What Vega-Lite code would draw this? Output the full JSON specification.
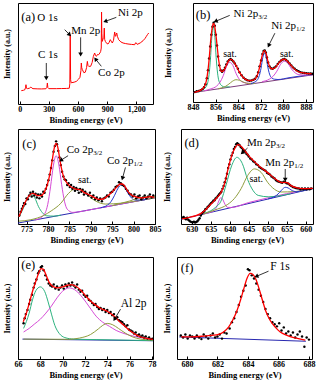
{
"$schema":"https://vega.github.io/schema/vega-lite/v6.json",
"padding":{"left":2,"top":2,"right":2,"bottom":2},
"spacing":4,
"datasets":{
"a":[{"x":17,"y":13.2},{"x":40,"y":13.6},{"x":51,"y":13.9},{"x":60,"y":16},{"x":65,"y":19.1},{"x":70,"y":15.6},{"x":79,"y":15.2},{"x":100,"y":15.6},{"x":115,"y":16.8},{"x":125,"y":15.8},{"x":137,"y":15.2},{"x":180,"y":15},{"x":223,"y":14.9},{"x":270,"y":15.1},{"x":280,"y":16.5},{"x":285,"y":20.8},{"x":290,"y":16.2},{"x":300,"y":15.2},{"x":380,"y":15.2},{"x":429,"y":15.3},{"x":480,"y":15.4},{"x":510,"y":15.6},{"x":516,"y":20},{"x":520,"y":68.6},{"x":524,"y":24},{"x":530,"y":21},{"x":560,"y":21.6},{"x":583,"y":22.4},{"x":605,"y":24.5},{"x":620,"y":26.4},{"x":630,"y":33},{"x":634,"y":40.6},{"x":638,"y":36},{"x":645,"y":34},{"x":660,"y":31},{"x":675,"y":31.5},{"x":688,"y":36},{"x":696,"y":42.2},{"x":703,"y":38},{"x":710,"y":37.3},{"x":730,"y":37.3},{"x":745,"y":41},{"x":758,"y":47.2},{"x":771,"y":50.5},{"x":780,"y":48},{"x":789,"y":47.2},{"x":800,"y":49},{"x":812,"y":48.8},{"x":825,"y":50.5},{"x":833,"y":52.1},{"x":839,"y":55.4},{"x":842,"y":91},{"x":845,"y":70},{"x":850,"y":62},{"x":860,"y":65.3},{"x":866,"y":66},{"x":870,"y":75.2},{"x":874,"y":64},{"x":881,"y":62},{"x":895,"y":60},{"x":908,"y":59.4},{"x":920,"y":61},{"x":932,"y":63.7},{"x":945,"y":61.5},{"x":953,"y":60.4},{"x":965,"y":63},{"x":977,"y":71.3},{"x":983,"y":68},{"x":987,"y":67},{"x":993,"y":69},{"x":998,"y":70.3},{"x":1005,"y":67},{"x":1018,"y":63.7},{"x":1040,"y":61.5},{"x":1063,"y":60.4},{"x":1090,"y":59.8},{"x":1114,"y":59.4},{"x":1150,"y":59},{"x":1183,"y":58.7},{"x":1192,"y":60.6},{"x":1200,"y":60.4},{"x":1210,"y":59},{"x":1217,"y":59.4},{"x":1240,"y":60.5},{"x":1269,"y":62.7},{"x":1290,"y":65},{"x":1303,"y":67},{"x":1315,"y":68.8},{"x":1327,"y":70.3}],
"ta":[{"k":"p","t":"(a)","x":17,"y":86},{"k":"l","t":"O 1s","x":182,"y":84.8},{"k":"l","t":"Mn 2p","x":531,"y":72.6},{"k":"l","t":"Ni 2p","x":1011,"y":90},{"k":"l","t":"C 1s","x":189,"y":48.5},{"k":"l","t":"Co 2p","x":806,"y":30.7}],
"ra":[{"k":"o","x":463,"y":73.6,"x2":514,"y2":68.6},{"k":"mn","x":627,"y":66,"x2":627,"y2":49},{"k":"c","x":274,"y":40.6,"x2":274,"y2":25.5},{"k":"ni","x":994,"y":85.8,"x2":880,"y2":81.8},{"k":"co","x":840,"y":37.3,"x2":780,"y2":44.5}],
"b":[{"s":"bm","x":848,"y":9.5},{"s":"bm","x":890.5,"y":27.5},
{"s":"g1","x":849.5,"y":10.1},{"s":"g1","x":851.2,"y":11.9},{"s":"g1","x":852.2,"y":13.9},{"s":"g1","x":853.2,"y":19.4},{"s":"g1","x":853.7,"y":27.9},{"s":"g1","x":854.2,"y":44.2},{"s":"g1","x":854.7,"y":66.8},{"s":"g1","x":855.2,"y":76.6},{"s":"g1","x":855.7,"y":67.2},{"s":"g1","x":856.2,"y":45},{"s":"g1","x":856.7,"y":29.2},{"s":"g1","x":857.2,"y":21.1},{"s":"g1","x":858.2,"y":16.4},{"s":"g1","x":859.2,"y":15.2},{"s":"g1","x":861,"y":15.3},
{"s":"m1","x":852,"y":11.3},{"s":"m1","x":854.1,"y":13.1},{"s":"m1","x":856.4,"y":16.1},{"s":"m1","x":857.55,"y":19.9},{"s":"m1","x":858.7,"y":26.5},{"s":"m1","x":859.85,"y":35.8},{"s":"m1","x":861,"y":40},{"s":"m1","x":862.15,"y":36.8},{"s":"m1","x":863.3,"y":28.5},{"s":"m1","x":864.45,"y":22.8},{"s":"m1","x":865.6,"y":20},{"s":"m1","x":867.9,"y":18.9},{"s":"m1","x":870,"y":18.8},
{"s":"o1","x":857,"y":13.4},{"s":"o1","x":858.2,"y":14.3},{"s":"o1","x":859.45,"y":15.7},{"s":"o1","x":860.7,"y":18.1},{"s":"o1","x":861.95,"y":20.9},{"s":"o1","x":863.2,"y":22.5},{"s":"o1","x":864.45,"y":22},{"s":"o1","x":865.7,"y":20.3},{"s":"o1","x":866.95,"y":19},{"s":"o1","x":868.2,"y":18.6},{"s":"o1","x":870,"y":18.8},
{"s":"b1","x":868.5,"y":18.6},{"s":"b1","x":869.7,"y":19.9},{"s":"b1","x":870.9,"y":22.7},{"s":"b1","x":871.5,"y":26.75},{"s":"b1","x":872.1,"y":34.2},{"s":"b1","x":872.7,"y":44.7},{"s":"b1","x":873.3,"y":49.2},{"s":"b1","x":873.9,"y":45.2},{"s":"b1","x":874.5,"y":35.3},{"s":"b1","x":875.1,"y":28.25},{"s":"b1","x":875.7,"y":24.8},{"s":"b1","x":876.9,"y":23},{"s":"b1","x":878.1,"y":22.7},{"s":"b1","x":882,"y":24.5},{"s":"b1","x":886,"y":26.2},{"s":"b1","x":890.5,"y":27.8},
{"s":"m2","x":872.5,"y":20.6},{"s":"m2","x":875.1,"y":23.2},{"s":"m2","x":876.4,"y":26.1},{"s":"m2","x":877.7,"y":31.1},{"s":"m2","x":879,"y":38},{"s":"m2","x":880.3,"y":41.2},{"s":"m2","x":881.6,"y":39.1},{"s":"m2","x":882.9,"y":33.3},{"s":"m2","x":884.2,"y":29.4},{"s":"m2","x":885.5,"y":27.6},{"s":"m2","x":888.1,"y":27.2},{"s":"m2","x":890.5,"y":27.5},
{"s":"env","x":848.5,"y":9.8},{"s":"env","x":850,"y":11},{"s":"env","x":851,"y":12.5},{"s":"env","x":852,"y":15.5},{"s":"env","x":852.7,"y":21},{"s":"env","x":853.3,"y":32},{"s":"env","x":853.8,"y":46},{"s":"env","x":854.3,"y":63},{"s":"env","x":854.8,"y":75},{"s":"env","x":855.2,"y":79.5},{"s":"env","x":855.6,"y":77.5},{"s":"env","x":856.1,"y":68},{"s":"env","x":856.6,"y":55},{"s":"env","x":857.1,"y":42},{"s":"env","x":857.6,"y":34},{"s":"env","x":858.2,"y":30.8},{"s":"env","x":858.8,"y":31.5},{"s":"env","x":859.4,"y":34.5},{"s":"env","x":860.1,"y":39},{"s":"env","x":860.8,"y":42.3},{"s":"env","x":861.4,"y":43},{"s":"env","x":862.1,"y":41.8},{"s":"env","x":862.8,"y":39},{"s":"env","x":863.5,"y":35.5},{"s":"env","x":864.3,"y":31},{"s":"env","x":865.2,"y":27},{"s":"env","x":866.2,"y":23.8},{"s":"env","x":867.2,"y":22.2},{"s":"env","x":868.2,"y":21.6},{"s":"env","x":869.2,"y":22},{"s":"env","x":870,"y":23.4},{"s":"env","x":870.7,"y":26.5},{"s":"env","x":871.4,"y":33},{"s":"env","x":872.1,"y":42},{"s":"env","x":872.7,"y":49},{"s":"env","x":873.3,"y":51.8},{"s":"env","x":873.9,"y":49},{"s":"env","x":874.5,"y":41.5},{"s":"env","x":875.1,"y":36},{"s":"env","x":875.8,"y":33.6},{"s":"env","x":876.6,"y":33.8},{"s":"env","x":877.5,"y":36},{"s":"env","x":878.5,"y":39.8},{"s":"env","x":879.5,"y":42.5},{"s":"env","x":880.3,"y":43.2},{"s":"env","x":881.2,"y":42},{"s":"env","x":882.3,"y":38.5},{"s":"env","x":883.5,"y":34.5},{"s":"env","x":885,"y":31},{"s":"env","x":886.5,"y":29.6},{"s":"env","x":888,"y":29},{"s":"env","x":890,"y":28.6},
{"s":"pt","x":848.6,"y":10},{"s":"pt","x":849.3,"y":10.8},{"s":"pt","x":850,"y":11.2},{"s":"pt","x":850.7,"y":12},{"s":"pt","x":851.3,"y":13},{"s":"pt","x":851.9,"y":14.8},{"s":"pt","x":852.4,"y":18},{"s":"pt","x":852.9,"y":24},{"s":"pt","x":853.3,"y":32},{"s":"pt","x":853.7,"y":44},{"s":"pt","x":854.1,"y":56},{"s":"pt","x":854.5,"y":68},{"s":"pt","x":854.9,"y":76},{"s":"pt","x":855.3,"y":80},{"s":"pt","x":855.7,"y":77},{"s":"pt","x":856.1,"y":68},{"s":"pt","x":856.5,"y":57},{"s":"pt","x":856.9,"y":46},{"s":"pt","x":857.3,"y":37},{"s":"pt","x":857.8,"y":32},{"s":"pt","x":858.3,"y":30.5},{"s":"pt","x":858.8,"y":32},{"s":"pt","x":859.3,"y":34.5},{"s":"pt","x":859.8,"y":38},{"s":"pt","x":860.3,"y":41},{"s":"pt","x":860.8,"y":42.5},{"s":"pt","x":861.3,"y":43.5},{"s":"pt","x":861.8,"y":42.5},{"s":"pt","x":862.3,"y":41},{"s":"pt","x":862.8,"y":39},{"s":"pt","x":863.3,"y":36.5},{"s":"pt","x":863.9,"y":33.5},{"s":"pt","x":864.5,"y":30},{"s":"pt","x":865.2,"y":27},{"s":"pt","x":865.9,"y":24.5},{"s":"pt","x":866.6,"y":23},{"s":"pt","x":867.3,"y":22},{"s":"pt","x":868,"y":21.5},{"s":"pt","x":868.7,"y":21.8},{"s":"pt","x":869.4,"y":22.5},{"s":"pt","x":870,"y":23.5},{"s":"pt","x":870.6,"y":26},{"s":"pt","x":871.1,"y":30},{"s":"pt","x":871.6,"y":36},{"s":"pt","x":872.1,"y":42},{"s":"pt","x":872.6,"y":48.5},{"s":"pt","x":873,"y":51.5},{"s":"pt","x":873.4,"y":52},{"s":"pt","x":873.8,"y":50},{"s":"pt","x":874.2,"y":45},{"s":"pt","x":874.6,"y":40},{"s":"pt","x":875.1,"y":36},{"s":"pt","x":875.6,"y":34},{"s":"pt","x":876.2,"y":33.5},{"s":"pt","x":876.8,"y":34.5},{"s":"pt","x":877.4,"y":36},{"s":"pt","x":878,"y":38.5},{"s":"pt","x":878.6,"y":40.5},{"s":"pt","x":879.2,"y":42},{"s":"pt","x":879.8,"y":43},{"s":"pt","x":880.4,"y":43.5},{"s":"pt","x":881,"y":42.5},{"s":"pt","x":881.6,"y":41},{"s":"pt","x":882.2,"y":39},{"s":"pt","x":882.8,"y":37},{"s":"pt","x":883.4,"y":35},{"s":"pt","x":884,"y":33.5},{"s":"pt","x":884.7,"y":32},{"s":"pt","x":885.4,"y":31},{"s":"pt","x":886.1,"y":30},{"s":"pt","x":886.8,"y":29.5},{"s":"pt","x":887.5,"y":29.2},{"s":"pt","x":888.2,"y":29},{"s":"pt","x":888.9,"y":28.8},{"s":"pt","x":889.6,"y":28.8},{"s":"pt","x":890.2,"y":28.6}],
"tb":[{"k":"p","t":"(b)","x":849,"y":88},{"k":"s","t":"sat.","x":858.7,"y":48.5},{"k":"s","t":"sat.","x":878.8,"y":48},{"k":"u","t":"Ni 2p","sub":"3/2","x":871.1,"y":89},{"k":"u","t":"Ni 2p","sub":"1/2","x":884.5,"y":76.3}],
"rb":[{"k":"a1","x":861,"y":87.5,"x2":856,"y2":81.5},{"k":"a2","x":877,"y":69.5,"x2":874.8,"y2":57}],
"c":[{"s":"bl","x":773,"y":1},{"s":"bl","x":805,"y":27.6},
{"s":"g1","x":773.2,"y":7.4},{"s":"g1","x":774.1,"y":15.1},{"s":"g1","x":775.1,"y":26.2},{"s":"g1","x":776,"y":31.5},{"s":"g1","x":776.9,"y":27.7},{"s":"g1","x":777.8,"y":18.2},{"s":"g1","x":778.7,"y":11.9},{"s":"g1","x":779.6,"y":8.7},{"s":"g1","x":781.4,"y":8.3},{"s":"g1","x":783,"y":9.3},
{"s":"m1","x":777,"y":4.3},{"s":"m1","x":778,"y":5.8},{"s":"m1","x":779.3,"y":11.3},{"s":"m1","x":779.95,"y":20.7},{"s":"m1","x":780.6,"y":39.1},{"s":"m1","x":781.25,"y":61.1},{"s":"m1","x":781.9,"y":71.9},{"s":"m1","x":782.55,"y":62.2},{"s":"m1","x":783.2,"y":41.3},{"s":"m1","x":783.85,"y":24},{"s":"m1","x":784.5,"y":15.6},{"s":"m1","x":785.8,"y":12.2},{"s":"m1","x":787.5,"y":13},{"s":"m1","x":790,"y":15.1},{"s":"m1","x":797,"y":21},{"s":"m1","x":805,"y":27.6},
{"s":"o1","x":773.2,"y":3},{"s":"o1","x":776,"y":4.5},{"s":"o1","x":779,"y":9},{"s":"o1","x":780.75,"y":13.75},{"s":"o1","x":783,"y":21.8},{"s":"o1","x":784.75,"y":32},{"s":"o1","x":786.5,"y":37.2},{"s":"o1","x":788.25,"y":35},{"s":"o1","x":790,"y":27.6},{"s":"o1","x":791.75,"y":22.8},{"s":"o1","x":793.5,"y":21},{"s":"o1","x":797,"y":21.9},{"s":"o1","x":800,"y":23.7},{"s":"o1","x":805,"y":27.6},
{"s":"b1","x":792.3,"y":17.2},{"s":"b1","x":793.9,"y":19.9},{"s":"b1","x":794.7,"y":23.4},{"s":"b1","x":795.5,"y":29.7},{"s":"b1","x":796.3,"y":37.1},{"s":"b1","x":797.1,"y":41},{"s":"b1","x":797.9,"y":38.5},{"s":"b1","x":798.7,"y":32.3},{"s":"b1","x":799.5,"y":27.4},{"s":"b1","x":800.3,"y":25.3},{"s":"b1","x":801.9,"y":25.2},{"s":"b1","x":803,"y":26},
{"s":"o2","x":795,"y":19.3},{"s":"o2","x":799,"y":24.1},{"s":"o2","x":802,"y":28.1},{"s":"o2","x":805,"y":29.1},
{"s":"env","x":773.2,"y":7.7},{"s":"env","x":774,"y":15.8},{"s":"env","x":774.8,"y":23.9},{"s":"env","x":775.6,"y":29.8},{"s":"env","x":776.4,"y":32.3},{"s":"env","x":776.9,"y":31.6},{"s":"env","x":777.6,"y":29.8},{"s":"env","x":778.4,"y":29.8},{"s":"env","x":779.1,"y":33.3},{"s":"env","x":779.9,"y":42.1},{"s":"env","x":780.6,"y":56.1},{"s":"env","x":781.1,"y":70.2},{"s":"env","x":781.5,"y":80.7},{"s":"env","x":781.9,"y":84.9},{"s":"env","x":782.3,"y":80.7},{"s":"env","x":782.7,"y":70.2},{"s":"env","x":783.1,"y":59.6},{"s":"env","x":783.7,"y":49.1},{"s":"env","x":784.5,"y":42.8},{"s":"env","x":785.5,"y":38.6},{"s":"env","x":786.6,"y":36.8},{"s":"env","x":787.7,"y":35.8},{"s":"env","x":788.4,"y":33.3},{"s":"env","x":789.2,"y":31.6},{"s":"env","x":790,"y":29.8},{"s":"env","x":791,"y":27.4},{"s":"env","x":791.9,"y":26},{"s":"env","x":792.9,"y":26.3},{"s":"env","x":793.7,"y":28.8},{"s":"env","x":794.5,"y":31.6},{"s":"env","x":795.3,"y":35.1},{"s":"env","x":796.1,"y":39.3},{"s":"env","x":796.9,"y":42.1},{"s":"env","x":797.4,"y":42.1},{"s":"env","x":798.1,"y":38.6},{"s":"env","x":798.7,"y":34},{"s":"env","x":799.5,"y":30.5},{"s":"env","x":800.4,"y":28.8},{"s":"env","x":801.6,"y":27.4},{"s":"env","x":802.8,"y":28.1},{"s":"env","x":804,"y":28.8},{"s":"env","x":804.8,"y":28.1},
{"s":"pt","x":773.3,"y":9},{"s":"pt","x":773.6,"y":13},{"s":"pt","x":773.9,"y":16},{"s":"pt","x":774.2,"y":19},{"s":"pt","x":774.4,"y":22},{"s":"pt","x":774.7,"y":21},{"s":"pt","x":775,"y":27},{"s":"pt","x":775.3,"y":26},{"s":"pt","x":775.6,"y":30},{"s":"pt","x":775.9,"y":33},{"s":"pt","x":776.2,"y":29},{"s":"pt","x":776.5,"y":34},{"s":"pt","x":776.8,"y":30},{"s":"pt","x":777.1,"y":32},{"s":"pt","x":777.4,"y":28},{"s":"pt","x":777.7,"y":31},{"s":"pt","x":778,"y":27},{"s":"pt","x":778.3,"y":31},{"s":"pt","x":778.6,"y":29},{"s":"pt","x":778.9,"y":34},{"s":"pt","x":779.2,"y":33},{"s":"pt","x":779.5,"y":37},{"s":"pt","x":779.8,"y":41},{"s":"pt","x":780.1,"y":46},{"s":"pt","x":780.4,"y":52},{"s":"pt","x":780.7,"y":59},{"s":"pt","x":781,"y":67},{"s":"pt","x":781.3,"y":76},{"s":"pt","x":781.6,"y":82},{"s":"pt","x":781.9,"y":87},{"s":"pt","x":782.1,"y":84},{"s":"pt","x":782.4,"y":77},{"s":"pt","x":782.7,"y":70},{"s":"pt","x":783,"y":62},{"s":"pt","x":783.3,"y":55},{"s":"pt","x":783.6,"y":50},{"s":"pt","x":783.9,"y":47},{"s":"pt","x":784.2,"y":46},{"s":"pt","x":784.5,"y":41},{"s":"pt","x":784.8,"y":43},{"s":"pt","x":785.1,"y":39},{"s":"pt","x":785.4,"y":41},{"s":"pt","x":785.7,"y":37},{"s":"pt","x":786,"y":39},{"s":"pt","x":786.3,"y":35},{"s":"pt","x":786.6,"y":38},{"s":"pt","x":786.9,"y":36},{"s":"pt","x":787.2,"y":33},{"s":"pt","x":787.5,"y":37},{"s":"pt","x":787.8,"y":34},{"s":"pt","x":788.1,"y":36},{"s":"pt","x":788.4,"y":31},{"s":"pt","x":788.7,"y":34},{"s":"pt","x":789,"y":32},{"s":"pt","x":789.4,"y":30},{"s":"pt","x":789.8,"y":33},{"s":"pt","x":790.2,"y":28},{"s":"pt","x":790.6,"y":30},{"s":"pt","x":791,"y":26},{"s":"pt","x":791.4,"y":28},{"s":"pt","x":791.8,"y":25},{"s":"pt","x":792.2,"y":27},{"s":"pt","x":792.6,"y":24},{"s":"pt","x":793,"y":27},{"s":"pt","x":793.4,"y":28},{"s":"pt","x":793.8,"y":30},{"s":"pt","x":794.2,"y":29},{"s":"pt","x":794.6,"y":33},{"s":"pt","x":795,"y":34},{"s":"pt","x":795.4,"y":36},{"s":"pt","x":795.8,"y":39},{"s":"pt","x":796.2,"y":40},{"s":"pt","x":796.6,"y":44},{"s":"pt","x":797,"y":43},{"s":"pt","x":797.4,"y":41},{"s":"pt","x":797.8,"y":40},{"s":"pt","x":798.2,"y":37},{"s":"pt","x":798.6,"y":35},{"s":"pt","x":799,"y":32},{"s":"pt","x":799.4,"y":31},{"s":"pt","x":799.8,"y":29},{"s":"pt","x":800.2,"y":31},{"s":"pt","x":800.6,"y":27},{"s":"pt","x":801,"y":29},{"s":"pt","x":801.4,"y":30},{"s":"pt","x":801.8,"y":26},{"s":"pt","x":802.2,"y":28},{"s":"pt","x":802.6,"y":30},{"s":"pt","x":803,"y":27},{"s":"pt","x":803.4,"y":29},{"s":"pt","x":803.8,"y":31},{"s":"pt","x":804.2,"y":28},{"s":"pt","x":804.6,"y":30}],
"tc":[{"k":"p","t":"(c)","x":774,"y":84.2},{"k":"s","t":"sat.","x":787,"y":46.7},{"k":"u","t":"Co 2p","sub":"3/2","x":790.6,"y":77.9},{"k":"u","t":"Co 2p","sub":"1/2","x":800,"y":66.3}],
"rc":[{"k":"a1","x":784.7,"y":71.9,"x2":783,"y2":67},{"k":"a2","x":798.1,"y":59.6,"x2":797.4,"y2":48}],
"d":[{"s":"bl","x":627.2,"y":5},{"s":"bl","x":661.9,"y":37.3},
{"s":"m1","x":633,"y":10.5},{"s":"m1","x":635,"y":12.4},{"s":"m1","x":635.9,"y":14.1},{"s":"m1","x":636.35,"y":16.4},{"s":"m1","x":636.8,"y":20.5},{"s":"m1","x":637.25,"y":25.3},{"s":"m1","x":637.7,"y":27.8},{"s":"m1","x":638.15,"y":26.1},{"s":"m1","x":638.6,"y":22.1},{"s":"m1","x":639.05,"y":18.9},{"s":"m1","x":639.5,"y":17.5},{"s":"m1","x":640.4,"y":17.4},{"s":"m1","x":645,"y":22.6},{"s":"m1","x":650,"y":27.5},{"s":"m1","x":655,"y":32},{"s":"m1","x":661.9,"y":37.6},
{"s":"g1","x":633.5,"y":11.4},{"s":"g1","x":636.3,"y":17.6},{"s":"g1","x":637.7,"y":24},{"s":"g1","x":639.1,"y":41.9},{"s":"g1","x":640.5,"y":61.2},{"s":"g1","x":641.9,"y":70.2},{"s":"g1","x":643.3,"y":63.8},{"s":"g1","x":644.7,"y":47},{"s":"g1","x":646.1,"y":35.5},{"s":"g1","x":647.5,"y":30.1},{"s":"g1","x":650.3,"y":28.6},{"s":"g1","x":653,"y":29.7},{"s":"g1","x":656,"y":31.8},
{"s":"o1","x":633,"y":10.4},{"s":"o1","x":636,"y":14.6},{"s":"o1","x":639.5,"y":20.7},{"s":"o1","x":641.25,"y":26.9},{"s":"o1","x":643,"y":37.2},{"s":"o1","x":644.75,"y":51.2},{"s":"o1","x":646.5,"y":58},{"s":"o1","x":648.25,"y":54.4},{"s":"o1","x":650,"y":43.7},{"s":"o1","x":651.75,"y":36.6},{"s":"o1","x":653.5,"y":33.7},{"s":"o1","x":657,"y":34.1},{"s":"o1","x":661.9,"y":37.6},
{"s":"b1","x":650.1,"y":26.5},{"s":"b1","x":651.6,"y":28.4},{"s":"b1","x":652.35,"y":30.3},{"s":"b1","x":653.1,"y":33.2},{"s":"b1","x":653.85,"y":36.6},{"s":"b1","x":654.6,"y":38.6},{"s":"b1","x":655.35,"y":38},{"s":"b1","x":656.1,"y":36},{"s":"b1","x":656.85,"y":34.5},{"s":"b1","x":657.6,"y":34},{"s":"b1","x":659.1,"y":34.9},{"s":"b1","x":661.9,"y":37.4},
{"s":"env","x":627.46,"y":5.3},{"s":"env","x":629.39,"y":7},{"s":"env","x":631.14,"y":8.8},{"s":"env","x":632.46,"y":11.2},{"s":"env","x":633.6,"y":14.7},{"s":"env","x":634.65,"y":19.3},{"s":"env","x":635.53,"y":22.8},{"s":"env","x":636.58,"y":27.4},{"s":"env","x":637.46,"y":31.6},{"s":"env","x":638.16,"y":36.8},{"s":"env","x":638.86,"y":45.6},{"s":"env","x":639.56,"y":57.9},{"s":"env","x":640.26,"y":68.4},{"s":"env","x":640.96,"y":76.5},{"s":"env","x":641.67,"y":81.8},{"s":"env","x":642.19,"y":83.5},{"s":"env","x":642.89,"y":82.1},{"s":"env","x":643.86,"y":77.9},{"s":"env","x":645,"y":71.9},{"s":"env","x":646.23,"y":66.7},{"s":"env","x":647.63,"y":61.4},{"s":"env","x":649.12,"y":56.8},{"s":"env","x":650.44,"y":52.6},{"s":"env","x":651.75,"y":48.1},{"s":"env","x":652.89,"y":44.9},{"s":"env","x":653.77,"y":43.5},{"s":"env","x":654.47,"y":43.9},{"s":"env","x":655.26,"y":43.2},{"s":"env","x":656.14,"y":40.4},{"s":"env","x":657.46,"y":38.2},{"s":"env","x":659.21,"y":37.2},{"s":"env","x":661.84,"y":37.5},
{"s":"pt","x":627.6,"y":6.5},{"s":"pt","x":627.9,"y":7.5},{"s":"pt","x":628.2,"y":6},{"s":"pt","x":628.5,"y":5},{"s":"pt","x":628.8,"y":6.5},{"s":"pt","x":629.1,"y":4.5},{"s":"pt","x":629.4,"y":3.5},{"s":"pt","x":629.7,"y":2.5},{"s":"pt","x":630,"y":2},{"s":"pt","x":630.3,"y":1.8},{"s":"pt","x":630.6,"y":2.5},{"s":"pt","x":630.9,"y":1.5},{"s":"pt","x":631.2,"y":2.2},{"s":"pt","x":631.5,"y":3},{"s":"pt","x":631.8,"y":4.5},{"s":"pt","x":632.1,"y":6},{"s":"pt","x":632.4,"y":9},{"s":"pt","x":632.7,"y":11},{"s":"pt","x":633,"y":12.5},{"s":"pt","x":633.3,"y":13.5},{"s":"pt","x":633.6,"y":15.5},{"s":"pt","x":633.9,"y":16},{"s":"pt","x":634.2,"y":18},{"s":"pt","x":634.5,"y":19},{"s":"pt","x":634.8,"y":20.5},{"s":"pt","x":635.1,"y":22},{"s":"pt","x":635.4,"y":23},{"s":"pt","x":635.7,"y":24.5},{"s":"pt","x":636,"y":25},{"s":"pt","x":636.3,"y":27},{"s":"pt","x":636.6,"y":28},{"s":"pt","x":636.9,"y":29.5},{"s":"pt","x":637.2,"y":31},{"s":"pt","x":637.5,"y":32.5},{"s":"pt","x":637.8,"y":34},{"s":"pt","x":638.1,"y":37},{"s":"pt","x":638.4,"y":40},{"s":"pt","x":638.7,"y":44},{"s":"pt","x":639,"y":48},{"s":"pt","x":639.3,"y":53},{"s":"pt","x":639.6,"y":59},{"s":"pt","x":639.9,"y":63},{"s":"pt","x":640.2,"y":68},{"s":"pt","x":640.5,"y":72},{"s":"pt","x":640.8,"y":75},{"s":"pt","x":641.1,"y":79},{"s":"pt","x":641.4,"y":81},{"s":"pt","x":641.7,"y":84},{"s":"pt","x":642,"y":85},{"s":"pt","x":642.3,"y":84},{"s":"pt","x":642.6,"y":83},{"s":"pt","x":642.9,"y":81},{"s":"pt","x":643.2,"y":80},{"s":"pt","x":643.5,"y":78},{"s":"pt","x":643.8,"y":77},{"s":"pt","x":644.1,"y":76},{"s":"pt","x":644.4,"y":74},{"s":"pt","x":644.7,"y":73},{"s":"pt","x":645,"y":71},{"s":"pt","x":645.4,"y":69},{"s":"pt","x":645.8,"y":68},{"s":"pt","x":646.2,"y":66},{"s":"pt","x":646.6,"y":65},{"s":"pt","x":647,"y":63},{"s":"pt","x":647.4,"y":62},{"s":"pt","x":647.8,"y":60},{"s":"pt","x":648.2,"y":59},{"s":"pt","x":648.6,"y":58},{"s":"pt","x":649,"y":57},{"s":"pt","x":649.4,"y":56},{"s":"pt","x":649.8,"y":54},{"s":"pt","x":650.2,"y":53},{"s":"pt","x":650.6,"y":52},{"s":"pt","x":651,"y":50},{"s":"pt","x":651.4,"y":49},{"s":"pt","x":651.8,"y":48},{"s":"pt","x":652.2,"y":46},{"s":"pt","x":652.6,"y":45},{"s":"pt","x":653,"y":44.5},{"s":"pt","x":653.4,"y":44},{"s":"pt","x":653.8,"y":43.5},{"s":"pt","x":654.2,"y":44.5},{"s":"pt","x":654.6,"y":44},{"s":"pt","x":655,"y":43},{"s":"pt","x":655.4,"y":42.5},{"s":"pt","x":655.8,"y":41},{"s":"pt","x":656.2,"y":40},{"s":"pt","x":656.6,"y":39},{"s":"pt","x":657,"y":38.5},{"s":"pt","x":657.4,"y":38},{"s":"pt","x":657.8,"y":37.5},{"s":"pt","x":658.2,"y":37.5},{"s":"pt","x":658.6,"y":36.5},{"s":"pt","x":659,"y":37.5},{"s":"pt","x":659.4,"y":36.5},{"s":"pt","x":659.8,"y":37.5},{"s":"pt","x":660.2,"y":36.5},{"s":"pt","x":660.6,"y":37.5},{"s":"pt","x":661,"y":36.5},{"s":"pt","x":661.4,"y":37.5}],
"td":[{"k":"p","t":"(d)","x":628.1,"y":84.9},{"k":"s","t":"sat.","x":645.2,"y":47.4},{"k":"u","t":"Mn 2p","sub":"3/2","x":652.2,"y":85.3},{"k":"u","t":"Mn 2p","sub":"1/2","x":657,"y":64.2}],
"rd":[{"k":"a1","x":644.7,"y":80,"x2":643.3,"y2":74.8},{"k":"a2","x":654.6,"y":57.9,"x2":654.6,"y2":46.5}],
"e":[{"s":"bl","x":66.4,"y":19.5},{"s":"bl","x":78.1,"y":17.9},
{"s":"g1","x":66.5,"y":30},{"s":"g1","x":67,"y":45},{"s":"g1","x":67.3,"y":58},{"s":"g1","x":67.6,"y":67},{"s":"g1","x":68,"y":70.7},{"s":"g1","x":68.4,"y":66},{"s":"g1","x":68.7,"y":56},{"s":"g1","x":69,"y":44},{"s":"g1","x":69.3,"y":33},{"s":"g1","x":69.7,"y":25},{"s":"g1","x":70.2,"y":21},{"s":"g1","x":71,"y":19.5},{"s":"g1","x":73,"y":19},{"s":"g1","x":78.1,"y":18},
{"s":"m1","x":66.5,"y":26.5},{"s":"m1","x":67,"y":30},{"s":"m1","x":67.5,"y":34.5},{"s":"m1","x":68,"y":39},{"s":"m1","x":68.5,"y":45},{"s":"m1","x":69,"y":52},{"s":"m1","x":69.5,"y":60},{"s":"m1","x":70,"y":66.5},{"s":"m1","x":70.6,"y":69.7},{"s":"m1","x":71.2,"y":67},{"s":"m1","x":71.8,"y":60},{"s":"m1","x":72.4,"y":51},{"s":"m1","x":73,"y":42},{"s":"m1","x":73.6,"y":36},{"s":"m1","x":74.2,"y":32},{"s":"m1","x":74.8,"y":28},{"s":"m1","x":75.5,"y":25},{"s":"m1","x":76.5,"y":22},{"s":"m1","x":77.5,"y":20},{"s":"m1","x":78.1,"y":19},
{"s":"o1","x":66.5,"y":19.5},{"s":"o1","x":70.5,"y":19.3},{"s":"o1","x":71.5,"y":20.5},{"s":"o1","x":72.5,"y":24},{"s":"o1","x":73.2,"y":29.5},{"s":"o1","x":73.6,"y":33},{"s":"o1","x":74,"y":34.9},{"s":"o1","x":74.5,"y":33.5},{"s":"o1","x":75,"y":30},{"s":"o1","x":75.6,"y":25.5},{"s":"o1","x":76.3,"y":21.5},{"s":"o1","x":77,"y":19.5},{"s":"o1","x":78.1,"y":18.5},
{"s":"env","x":66.47,"y":36.5},{"s":"env","x":66.74,"y":44.6},{"s":"env","x":67.04,"y":56},{"s":"env","x":67.33,"y":67.4},{"s":"env","x":67.63,"y":77.2},{"s":"env","x":67.87,"y":84.7},{"s":"env","x":68.07,"y":88.6},{"s":"env","x":68.28,"y":87.9},{"s":"env","x":68.52,"y":82.1},{"s":"env","x":68.81,"y":74.9},{"s":"env","x":69.2,"y":70.7},{"s":"env","x":69.56,"y":69.7},{"s":"env","x":70,"y":70.7},{"s":"env","x":70.44,"y":72.3},{"s":"env","x":70.8,"y":73},{"s":"env","x":71.19,"y":71.3},{"s":"env","x":71.63,"y":67.4},{"s":"env","x":72.07,"y":61.9},{"s":"env","x":72.52,"y":56.7},{"s":"env","x":72.96,"y":52.8},{"s":"env","x":73.41,"y":49.5},{"s":"env","x":73.85,"y":47.6},{"s":"env","x":74.3,"y":44.6},{"s":"env","x":74.74,"y":40.7},{"s":"env","x":75.19,"y":35.8},{"s":"env","x":75.63,"y":31.6},{"s":"env","x":76.07,"y":27.4},{"s":"env","x":76.52,"y":24.1},{"s":"env","x":76.96,"y":21.8},{"s":"env","x":77.56,"y":20.2},{"s":"env","x":78.09,"y":19.2},
{"s":"pt","x":66.5,"y":35},{"s":"pt","x":66.6,"y":40},{"s":"pt","x":66.7,"y":44},{"s":"pt","x":66.85,"y":48},{"s":"pt","x":67,"y":54},{"s":"pt","x":67.1,"y":58},{"s":"pt","x":67.25,"y":63},{"s":"pt","x":67.4,"y":70},{"s":"pt","x":67.5,"y":74},{"s":"pt","x":67.65,"y":78},{"s":"pt","x":67.8,"y":84},{"s":"pt","x":67.9,"y":86},{"s":"pt","x":68.05,"y":90},{"s":"pt","x":68.15,"y":91},{"s":"pt","x":68.3,"y":87},{"s":"pt","x":68.45,"y":82},{"s":"pt","x":68.6,"y":78},{"s":"pt","x":68.75,"y":74},{"s":"pt","x":68.9,"y":72},{"s":"pt","x":69.05,"y":71},{"s":"pt","x":69.2,"y":73},{"s":"pt","x":69.35,"y":69},{"s":"pt","x":69.5,"y":71},{"s":"pt","x":69.65,"y":68},{"s":"pt","x":69.8,"y":70},{"s":"pt","x":69.95,"y":72},{"s":"pt","x":70.1,"y":69},{"s":"pt","x":70.25,"y":73},{"s":"pt","x":70.4,"y":71},{"s":"pt","x":70.55,"y":74},{"s":"pt","x":70.7,"y":72},{"s":"pt","x":70.85,"y":75},{"s":"pt","x":71,"y":72},{"s":"pt","x":71.15,"y":70},{"s":"pt","x":71.3,"y":73},{"s":"pt","x":71.45,"y":68},{"s":"pt","x":71.6,"y":66},{"s":"pt","x":71.75,"y":67},{"s":"pt","x":71.9,"y":63},{"s":"pt","x":72.05,"y":61},{"s":"pt","x":72.2,"y":62},{"s":"pt","x":72.35,"y":58},{"s":"pt","x":72.5,"y":57},{"s":"pt","x":72.65,"y":55},{"s":"pt","x":72.8,"y":53},{"s":"pt","x":72.95,"y":54},{"s":"pt","x":73.1,"y":51},{"s":"pt","x":73.25,"y":49},{"s":"pt","x":73.4,"y":50},{"s":"pt","x":73.55,"y":48},{"s":"pt","x":73.7,"y":49},{"s":"pt","x":73.85,"y":46},{"s":"pt","x":74,"y":48},{"s":"pt","x":74.15,"y":45},{"s":"pt","x":74.3,"y":46},{"s":"pt","x":74.45,"y":43},{"s":"pt","x":74.6,"y":44},{"s":"pt","x":74.75,"y":40},{"s":"pt","x":74.9,"y":41},{"s":"pt","x":75.05,"y":38},{"s":"pt","x":75.2,"y":37},{"s":"pt","x":75.35,"y":36},{"s":"pt","x":75.5,"y":34},{"s":"pt","x":75.65,"y":32},{"s":"pt","x":75.8,"y":33},{"s":"pt","x":75.95,"y":29},{"s":"pt","x":76.1,"y":28},{"s":"pt","x":76.25,"y":27},{"s":"pt","x":76.4,"y":25},{"s":"pt","x":76.55,"y":26},{"s":"pt","x":76.7,"y":23},{"s":"pt","x":76.85,"y":24},{"s":"pt","x":77,"y":22},{"s":"pt","x":77.15,"y":23},{"s":"pt","x":77.3,"y":21},{"s":"pt","x":77.45,"y":22},{"s":"pt","x":77.6,"y":20},{"s":"pt","x":77.75,"y":21},{"s":"pt","x":77.9,"y":19.5},{"s":"pt","x":78.05,"y":20}],
"te":[{"k":"p","t":"(e)","x":66.3,"y":91.9},{"k":"l","t":"Al 2p","x":75.2,"y":54.4}],
"re":[{"k":"a1","x":75.19,"y":48.9,"x2":74.65,"y2":39}],
"f":[{"s":"bl","x":679.5,"y":21.6},{"s":"bl","x":687.8,"y":17.4},
{"s":"env","x":679.63,"y":21.6},{"s":"env","x":680.33,"y":21.6},{"s":"env","x":680.98,"y":22.3},{"s":"env","x":681.64,"y":23.2},{"s":"env","x":682.08,"y":24.2},{"s":"env","x":682.4,"y":26.5},{"s":"env","x":682.73,"y":31.3},{"s":"env","x":682.99,"y":37.7},{"s":"env","x":683.28,"y":47.4},{"s":"env","x":683.5,"y":57.1},{"s":"env","x":683.72,"y":68.4},{"s":"env","x":683.93,"y":78.7},{"s":"env","x":684.15,"y":83.9},{"s":"env","x":684.33,"y":82.9},{"s":"env","x":684.52,"y":78.1},{"s":"env","x":684.74,"y":68.4},{"s":"env","x":684.96,"y":57.1},{"s":"env","x":685.18,"y":46.5},{"s":"env","x":685.46,"y":37.7},{"s":"env","x":685.79,"y":31.3},{"s":"env","x":686.12,"y":26.5},{"s":"env","x":686.56,"y":23.2},{"s":"env","x":687.1,"y":20.6},{"s":"env","x":687.76,"y":18.4},
{"s":"pt","x":679.6,"y":23},{"s":"pt","x":679.75,"y":21},{"s":"pt","x":679.9,"y":24},{"s":"pt","x":680.05,"y":20},{"s":"pt","x":680.2,"y":23},{"s":"pt","x":680.35,"y":22},{"s":"pt","x":680.5,"y":20},{"s":"pt","x":680.65,"y":23},{"s":"pt","x":680.8,"y":21},{"s":"pt","x":680.95,"y":19.5},{"s":"pt","x":681.1,"y":24},{"s":"pt","x":681.25,"y":22},{"s":"pt","x":681.4,"y":20},{"s":"pt","x":681.55,"y":23},{"s":"pt","x":681.7,"y":25},{"s":"pt","x":681.85,"y":21},{"s":"pt","x":682,"y":22},{"s":"pt","x":682.15,"y":24},{"s":"pt","x":682.3,"y":20},{"s":"pt","x":682.45,"y":26},{"s":"pt","x":682.6,"y":25},{"s":"pt","x":682.8,"y":30},{"s":"pt","x":682.95,"y":36},{"s":"pt","x":683.1,"y":40},{"s":"pt","x":683.25,"y":46},{"s":"pt","x":683.4,"y":53},{"s":"pt","x":683.55,"y":61},{"s":"pt","x":683.7,"y":67},{"s":"pt","x":683.85,"y":72},{"s":"pt","x":684,"y":88},{"s":"pt","x":684.1,"y":87},{"s":"pt","x":684.25,"y":82},{"s":"pt","x":684.4,"y":79},{"s":"pt","x":684.55,"y":74},{"s":"pt","x":684.7,"y":68},{"s":"pt","x":684.85,"y":62},{"s":"pt","x":685,"y":56},{"s":"pt","x":685.15,"y":49},{"s":"pt","x":685.3,"y":44},{"s":"pt","x":685.45,"y":40},{"s":"pt","x":685.6,"y":36},{"s":"pt","x":685.75,"y":34},{"s":"pt","x":685.9,"y":32},{"s":"pt","x":686.05,"y":35},{"s":"pt","x":686.2,"y":28},{"s":"pt","x":686.35,"y":31},{"s":"pt","x":686.5,"y":25},{"s":"pt","x":686.65,"y":27},{"s":"pt","x":686.8,"y":23},{"s":"pt","x":686.95,"y":26},{"s":"pt","x":687.1,"y":21},{"s":"pt","x":687.25,"y":24},{"s":"pt","x":687.4,"y":27},{"s":"pt","x":687.55,"y":22},{"s":"pt","x":687.7,"y":12},{"s":"pt","x":687.85,"y":21},{"s":"pt","x":688,"y":19}],
"tf":[{"k":"p","t":"(f)","x":679.6,"y":89.4},{"k":"l","t":"F 1s","x":685.46,"y":90.3}],
"rf":[{"k":"a1","x":685.35,"y":86.1,"x2":684.55,"y2":81}]
},
"vconcat":[
{"hconcat":[
{"width":135,"height":101,
"encoding":{"x":{"field":"x","type":"quantitative","scale":{"domain":[-17,1371],"nice":false,"zero":false},"axis":{"values":[0,300,600,900,1200],"title":"Binding energy (eV)"}},
"y":{"field":"y","type":"quantitative","scale":{"domain":[0,100],"nice":false,"zero":false},"axis":{"title":"Intensity (a.u.)","titlePadding":7}}},
"layer":[
{"data":{"name":"a"},"mark":{"type":"line","color":"#ff0000","strokeWidth":1}},
{"data":{"name":"ra"},"mark":{"type":"rule","color":"#000","strokeWidth":0.8},"encoding":{"x2":{"field":"x2"},"y2":{"field":"y2"}}},
{"data":{"name":"ra"},"transform":[{"filter":"datum.k=='o'"}],"mark":{"type":"point","shape":"triangle-up","filled":true,"color":"#000","opacity":1,"size":22,"angle":135},"encoding":{"x":{"field":"x2","type":"quantitative","title":"Binding energy (eV)"},"y":{"field":"y2","type":"quantitative","title":"Intensity (a.u.)"}}},
{"data":{"name":"ra"},"transform":[{"filter":"datum.k=='mn' || datum.k=='c'"}],"mark":{"type":"point","shape":"triangle-up","filled":true,"color":"#000","opacity":1,"size":22,"angle":180},"encoding":{"x":{"field":"x2","type":"quantitative","title":"Binding energy (eV)"},"y":{"field":"y2","type":"quantitative","title":"Intensity (a.u.)"}}},
{"data":{"name":"ra"},"transform":[{"filter":"datum.k=='ni'"}],"mark":{"type":"point","shape":"triangle-up","filled":true,"color":"#000","opacity":1,"size":22,"angle":250},"encoding":{"x":{"field":"x2","type":"quantitative","title":"Binding energy (eV)"},"y":{"field":"y2","type":"quantitative","title":"Intensity (a.u.)"}}},
{"data":{"name":"ra"},"transform":[{"filter":"datum.k=='co'"}],"mark":{"type":"point","shape":"triangle-up","filled":true,"color":"#000","opacity":1,"size":22,"angle":322},"encoding":{"x":{"field":"x2","type":"quantitative","title":"Binding energy (eV)"},"y":{"field":"y2","type":"quantitative","title":"Intensity (a.u.)"}}},
{"data":{"name":"ta"},"transform":[{"filter":"datum.k=='p'"}],"mark":{"type":"text","align":"left","fontSize":12.5},"encoding":{"text":{"field":"t"}}},
{"data":{"name":"ta"},"transform":[{"filter":"datum.k=='l'"}],"mark":{"type":"text","align":"left","fontSize":11},"encoding":{"text":{"field":"t"}}}
]},
{"width":120,"height":99,
"encoding":{"x":{"field":"x","type":"quantitative","scale":{"domain":[848,890.5],"nice":false,"zero":false},"axis":{"values":[848,856,864,872,880,888],"title":"Binding energy (eV)"}},
"y":{"field":"y","type":"quantitative","scale":{"domain":[0,100],"nice":false,"zero":false},"axis":{"title":"Intensity (a.u.)","titlePadding":21}}},
"layer":[
{"data":{"name":"b"},"transform":[{"filter":"datum.s!='pt' && datum.s!='env'"}],"mark":{"type":"line","strokeWidth":1,"interpolate":"monotone"},"encoding":{"color":{"field":"s","type":"nominal","scale":{"domain":["bl","bm","g1","m1","m2","o1","o2","b1","b2"],"range":["#2828b0","#7b3b7b","#2db37f","#d64bd6","#d64bd6","#8f9d3d","#8f9d3d","#2538cc","#2538cc"]},"legend":null}}},
{"data":{"name":"b"},"transform":[{"filter":"datum.s=='pt'"}],"mark":{"type":"point","filled":true,"color":"#000","opacity":1,"size":6}},
{"data":{"name":"b"},"transform":[{"filter":"datum.s=='env'"}],"mark":{"type":"line","color":"#ff0000","strokeWidth":1.3,"interpolate":"monotone"}},
{"data":{"name":"rb"},"mark":{"type":"rule","color":"#000","strokeWidth":0.8},"encoding":{"x2":{"field":"x2"},"y2":{"field":"y2"}}},
{"data":{"name":"rb"},"transform":[{"filter":"datum.k=='a1'"}],"mark":{"type":"point","shape":"triangle-up","filled":true,"color":"#000","opacity":1,"size":22,"angle":247},"encoding":{"x":{"field":"x2","type":"quantitative","title":"Binding energy (eV)"},"y":{"field":"y2","type":"quantitative","title":"Intensity (a.u.)"}}},
{"data":{"name":"rb"},"transform":[{"filter":"datum.k=='a2'"}],"mark":{"type":"point","shape":"triangle-up","filled":true,"color":"#000","opacity":1,"size":22,"angle":206},"encoding":{"x":{"field":"x2","type":"quantitative","title":"Binding energy (eV)"},"y":{"field":"y2","type":"quantitative","title":"Intensity (a.u.)"}}},
{"data":{"name":"tb"},"transform":[{"filter":"datum.k=='p'"}],"mark":{"type":"text","align":"left","fontSize":12.5},"encoding":{"text":{"field":"t"}}},
{"data":{"name":"tb"},"transform":[{"filter":"datum.k=='s'"}],"mark":{"type":"text","align":"left","fontSize":10},"encoding":{"text":{"field":"t"}}},
{"data":{"name":"tb"},"transform":[{"filter":"datum.k=='u'"}],"mark":{"type":"text","align":"right","fontSize":11},"encoding":{"text":{"field":"t"}}},
{"data":{"name":"tb"},"transform":[{"filter":"datum.k=='u'"}],"mark":{"type":"text","align":"left","fontSize":7,"dy":3},"encoding":{"text":{"field":"sub"}}}
]}
],"spacing":9},
{"vconcat":[
{"hconcat":[
{"width":137,"height":95,
"encoding":{"x":{"field":"x","type":"quantitative","scale":{"domain":[773,805],"nice":false,"zero":false},"axis":{"values":[775,780,785,790,795,800,805],"title":"Binding energy (eV)"}},
"y":{"field":"y","type":"quantitative","scale":{"domain":[0,100],"nice":false,"zero":false},"axis":{"title":"Intensity (a.u.)","titlePadding":7}}},
"layer":[
{"data":{"name":"c"},"transform":[{"filter":"datum.s!='pt' && datum.s!='env'"}],"mark":{"type":"line","strokeWidth":1,"interpolate":"monotone"},"encoding":{"color":{"field":"s","type":"nominal","scale":{"domain":["bl","bm","g1","m1","m2","o1","o2","b1","b2"],"range":["#2828b0","#7b3b7b","#2db37f","#d64bd6","#d64bd6","#8f9d3d","#8f9d3d","#2538cc","#2538cc"]},"legend":null}}},
{"data":{"name":"c"},"transform":[{"filter":"datum.s=='pt'"}],"mark":{"type":"point","filled":true,"color":"#000","opacity":1,"size":6}},
{"data":{"name":"c"},"transform":[{"filter":"datum.s=='env'"}],"mark":{"type":"line","color":"#ff0000","strokeWidth":1.3,"interpolate":"monotone"}},
{"data":{"name":"rc"},"mark":{"type":"rule","color":"#000","strokeWidth":0.8},"encoding":{"x2":{"field":"x2"},"y2":{"field":"y2"}}},
{"data":{"name":"rc"},"transform":[{"filter":"datum.k=='a1'"}],"mark":{"type":"point","shape":"triangle-up","filled":true,"color":"#000","opacity":1,"size":22,"angle":238},"encoding":{"x":{"field":"x2","type":"quantitative","title":"Binding energy (eV)"},"y":{"field":"y2","type":"quantitative","title":"Intensity (a.u.)"}}},
{"data":{"name":"rc"},"transform":[{"filter":"datum.k=='a2'"}],"mark":{"type":"point","shape":"triangle-up","filled":true,"color":"#000","opacity":1,"size":22,"angle":196},"encoding":{"x":{"field":"x2","type":"quantitative","title":"Binding energy (eV)"},"y":{"field":"y2","type":"quantitative","title":"Intensity (a.u.)"}}},
{"data":{"name":"tc"},"transform":[{"filter":"datum.k=='p'"}],"mark":{"type":"text","align":"left","fontSize":12.5},"encoding":{"text":{"field":"t"}}},
{"data":{"name":"tc"},"transform":[{"filter":"datum.k=='s'"}],"mark":{"type":"text","align":"left","fontSize":10},"encoding":{"text":{"field":"t"}}},
{"data":{"name":"tc"},"transform":[{"filter":"datum.k=='u'"}],"mark":{"type":"text","align":"right","fontSize":11},"encoding":{"text":{"field":"t"}}},
{"data":{"name":"tc"},"transform":[{"filter":"datum.k=='u'"}],"mark":{"type":"text","align":"left","fontSize":7,"dy":3},"encoding":{"text":{"field":"sub"}}}
]},
{"width":132,"height":95,
"encoding":{"x":{"field":"x","type":"quantitative","scale":{"domain":[627.2,661.9],"nice":false,"zero":false},"axis":{"values":[630,635,640,645,650,655,660],"title":"Binding energy (eV)"}},
"y":{"field":"y","type":"quantitative","scale":{"domain":[0,100],"nice":false,"zero":false},"axis":{"title":"Intensity (a.u.)","titlePadding":10}}},
"layer":[
{"data":{"name":"d"},"transform":[{"filter":"datum.s!='pt' && datum.s!='env'"}],"mark":{"type":"line","strokeWidth":1,"interpolate":"monotone"},"encoding":{"color":{"field":"s","type":"nominal","scale":{"domain":["bl","bm","g1","m1","m2","o1","o2","b1","b2"],"range":["#2828b0","#7b3b7b","#2db37f","#d64bd6","#d64bd6","#8f9d3d","#8f9d3d","#2538cc","#2538cc"]},"legend":null}}},
{"data":{"name":"d"},"transform":[{"filter":"datum.s=='pt'"}],"mark":{"type":"point","filled":true,"color":"#000","opacity":1,"size":6}},
{"data":{"name":"d"},"transform":[{"filter":"datum.s=='env'"}],"mark":{"type":"line","color":"#ff0000","strokeWidth":1.3,"interpolate":"monotone"}},
{"data":{"name":"rd"},"mark":{"type":"rule","color":"#000","strokeWidth":0.8},"encoding":{"x2":{"field":"x2"},"y2":{"field":"y2"}}},
{"data":{"name":"rd"},"transform":[{"filter":"datum.k=='a1'"}],"mark":{"type":"point","shape":"triangle-up","filled":true,"color":"#000","opacity":1,"size":22,"angle":227},"encoding":{"x":{"field":"x2","type":"quantitative","title":"Binding energy (eV)"},"y":{"field":"y2","type":"quantitative","title":"Intensity (a.u.)"}}},
{"data":{"name":"rd"},"transform":[{"filter":"datum.k=='a2'"}],"mark":{"type":"point","shape":"triangle-up","filled":true,"color":"#000","opacity":1,"size":22,"angle":180},"encoding":{"x":{"field":"x2","type":"quantitative","title":"Binding energy (eV)"},"y":{"field":"y2","type":"quantitative","title":"Intensity (a.u.)"}}},
{"data":{"name":"td"},"transform":[{"filter":"datum.k=='p'"}],"mark":{"type":"text","align":"left","fontSize":12.5},"encoding":{"text":{"field":"t"}}},
{"data":{"name":"td"},"transform":[{"filter":"datum.k=='s'"}],"mark":{"type":"text","align":"left","fontSize":10},"encoding":{"text":{"field":"t"}}},
{"data":{"name":"td"},"transform":[{"filter":"datum.k=='u'"}],"mark":{"type":"text","align":"right","fontSize":11},"encoding":{"text":{"field":"t"}}},
{"data":{"name":"td"},"transform":[{"filter":"datum.k=='u'"}],"mark":{"type":"text","align":"left","fontSize":7,"dy":3},"encoding":{"text":{"field":"sub"}}}
]}
],"spacing":0},
{"hconcat":[
{"width":135,"height":102,
"encoding":{"x":{"field":"x","type":"quantitative","scale":{"domain":[66,78.1],"nice":false,"zero":false},"axis":{"values":[66,68,70,72,74,76,78],"title":"Binding energy (eV)"}},
"y":{"field":"y","type":"quantitative","scale":{"domain":[0,100],"nice":false,"zero":false},"axis":{"title":"Intensity (a.u.)","titlePadding":7}}},
"layer":[
{"data":{"name":"e"},"transform":[{"filter":"datum.s!='pt' && datum.s!='env'"}],"mark":{"type":"line","strokeWidth":1,"interpolate":"monotone"},"encoding":{"color":{"field":"s","type":"nominal","scale":{"domain":["bl","bm","g1","m1","m2","o1","o2","b1","b2"],"range":["#2828b0","#7b3b7b","#2db37f","#d64bd6","#d64bd6","#8f9d3d","#8f9d3d","#2538cc","#2538cc"]},"legend":null}}},
{"data":{"name":"e"},"transform":[{"filter":"datum.s=='pt'"}],"mark":{"type":"point","filled":true,"color":"#000","opacity":1,"size":6}},
{"data":{"name":"e"},"transform":[{"filter":"datum.s=='env'"}],"mark":{"type":"line","color":"#ff0000","strokeWidth":1.3,"interpolate":"monotone"}},
{"data":{"name":"re"},"mark":{"type":"rule","color":"#000","strokeWidth":0.8},"encoding":{"x2":{"field":"x2"},"y2":{"field":"y2"}}},
{"data":{"name":"re"},"mark":{"type":"point","shape":"triangle-up","filled":true,"color":"#000","opacity":1,"size":22,"angle":211},"encoding":{"x":{"field":"x2","type":"quantitative","title":"Binding energy (eV)"},"y":{"field":"y2","type":"quantitative","title":"Intensity (a.u.)"}}},
{"data":{"name":"te"},"transform":[{"filter":"datum.k=='p'"}],"mark":{"type":"text","align":"left","fontSize":12.5},"encoding":{"text":{"field":"t"}}},
{"data":{"name":"te"},"transform":[{"filter":"datum.k=='l'"}],"mark":{"type":"text","align":"left","fontSize":11.5},"encoding":{"text":{"field":"t"}}}
]},
{"width":135,"height":102,
"encoding":{"x":{"field":"x","type":"quantitative","scale":{"domain":[679.35,688.2],"nice":false,"zero":false},"axis":{"values":[680,682,684,686,688],"title":"Binding energy (eV)"}},
"y":{"field":"y","type":"quantitative","scale":{"domain":[0,100],"nice":false,"zero":false},"axis":{"title":"Intensity (a.u.)","titlePadding":6}}},
"layer":[
{"data":{"name":"f"},"transform":[{"filter":"datum.s=='bl'"}],"mark":{"type":"line","strokeWidth":1,"color":"#2828b0"}},
{"data":{"name":"f"},"transform":[{"filter":"datum.s=='pt'"}],"mark":{"type":"point","filled":true,"color":"#000","opacity":1,"size":6}},
{"data":{"name":"f"},"transform":[{"filter":"datum.s=='env'"}],"mark":{"type":"line","color":"#ff0000","strokeWidth":1.3,"interpolate":"monotone"}},
{"data":{"name":"rf"},"mark":{"type":"rule","color":"#000","strokeWidth":0.8},"encoding":{"x2":{"field":"x2"},"y2":{"field":"y2"}}},
{"data":{"name":"rf"},"mark":{"type":"point","shape":"triangle-up","filled":true,"color":"#000","opacity":1,"size":22,"angle":247},"encoding":{"x":{"field":"x2","type":"quantitative","title":"Binding energy (eV)"},"y":{"field":"y2","type":"quantitative","title":"Intensity (a.u.)"}}},
{"data":{"name":"tf"},"transform":[{"filter":"datum.k=='p'"}],"mark":{"type":"text","align":"left","fontSize":12.5},"encoding":{"text":{"field":"t"}}},
{"data":{"name":"tf"},"transform":[{"filter":"datum.k=='l'"}],"mark":{"type":"text","align":"left","fontSize":11.5},"encoding":{"text":{"field":"t"}}}
]}
],"spacing":5}
],"spacing":12}
],
"config":{
"view":{"stroke":"#000","strokeWidth":1},
"axis":{"grid":false,"domain":false,"labelFont":"Liberation Serif","titleFont":"Liberation Serif","labelFontWeight":"bold","titleFontWeight":"bold","labelColor":"#000","titleColor":"#000","tickColor":"#000"},
"axisX":{"labelFontSize":8,"titleFontSize":8.5,"tickSize":-3,"labelPadding":4,"titlePadding":2,"labelOverlap":false,"labelFlush":false},
"axisY":{"labels":false,"ticks":false,"titleFontSize":8},
"text":{"font":"Liberation Serif","color":"#000","baseline":"middle"},
"line":{"strokeCap":"butt"}
}
}
